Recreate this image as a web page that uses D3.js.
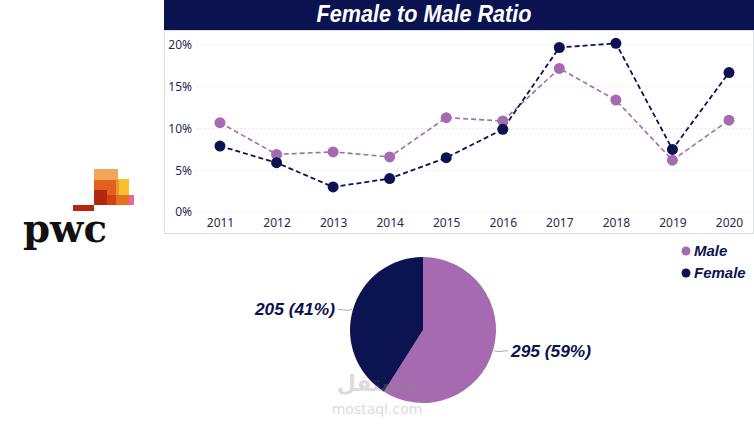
<!DOCTYPE html>
<html>
<head>
<meta charset="utf-8">
<script src="https://cdn.jsdelivr.net/npm/d3@7"></script>
<style>
  body { margin: 0; background: #fff; }
  svg { display: block; }
</style>
</head>
<body>
<div id="chart"></div>
<script>
// Data
const years = ['2011', '2012', '2013', '2014', '2015', '2016', '2017', '2018', '2019', '2020'];
const maleRatio = [0.107, 0.069, 0.072, 0.066, 0.113, 0.109, 0.172, 0.134, 0.062, 0.110];
const femaleRatio = [0.079, 0.059, 0.030, 0.040, 0.065, 0.099, 0.197, 0.202, 0.075, 0.167];
const yTicks = [0, 0.05, 0.10, 0.15, 0.20];
const pieLabels = ['Male', 'Female'];
const pieCounts = [295, 205];

const colors = { Male: '#A66AB0', Female: '#0B1350' };
const width = 754, height = 424;

const svg = d3.select('#chart').append('svg')
    .attr('width', width)
    .attr('height', height);

// pwc logo (decorative)
const logo = svg.append('g');
const blocks = [
    [94, 169, 24, 12, '#F2A65A'],
    [118, 179, 11, 16, '#F5C12E'],
    [94, 180, 22, 15, '#E0621C'],
    [116, 180, 3, 15, '#F0913A'],
    [94, 190, 13, 15, '#B5260E'],
    [107, 195, 9, 10, '#D2400F'],
    [116, 195, 13, 10, '#E5701E'],
    [129, 195, 5, 10, '#E8699E'],
    [73, 205, 21, 6, '#B5260E']
];
blocks.forEach(b => {
    logo.append('rect')
        .attr('x', b[0]).attr('y', b[1])
        .attr('width', b[2]).attr('height', b[3])
        .attr('fill', b[4]);
});
logo.append('text')
    .attr('x', 23).attr('y', 242)
    .attr('font-family', 'DejaVu Serif, Liberation Serif, serif')
    .attr('font-weight', 'bold')
    .attr('font-size', 40)
    .attr('textLength', 84)
    .attr('lengthAdjust', 'spacingAndGlyphs')
    .attr('fill', '#111')
    .text('pwc');

// Title bar
svg.append('rect')
    .attr('x', 164).attr('y', 0)
    .attr('width', width - 164).attr('height', 30)
    .attr('fill', '#0A1250');
svg.append('text')
    .attr('x', 424).attr('y', 22)
    .attr('text-anchor', 'middle')
    .attr('font-family', 'Liberation Sans, Arial, sans-serif')
    .attr('font-style', 'italic')
    .attr('font-weight', 'bold')
    .attr('font-size', 23)
    .attr('textLength', 215)
    .attr('lengthAdjust', 'spacingAndGlyphs')
    .attr('fill', '#fff')
    .text('Female to Male Ratio');

// Panel border
svg.append('rect')
    .attr('x', 164.5).attr('y', 30.5)
    .attr('width', width - 165).attr('height', 203)
    .attr('fill', 'none')
    .attr('stroke', '#dcdee6');

// Scales
const x = d3.scalePoint().domain(years).range([220, 729]);
const y = d3.scaleLinear().domain([0, 0.2]).range([212, 45]);

// Grid
svg.append('g')
    .selectAll('line')
    .data(yTicks)
    .join('line')
    .attr('x1', 197).attr('x2', 750)
    .attr('y1', d => y(d)).attr('y2', d => y(d))
    .attr('stroke', '#d6d6d6')
    .attr('stroke-dasharray', '1,3');

// Y axis
const yAxis = svg.append('g')
    .attr('transform', 'translate(192,0)')
    .call(d3.axisLeft(y).tickValues(yTicks).tickFormat(d3.format('.0%')).tickSize(0).tickPadding(0));
yAxis.select('.domain').remove();
yAxis.selectAll('text')
    .attr('font-family', 'Noto Sans, Open Sans, sans-serif')
    .attr('font-size', 12)
    .attr('fill', '#252a52');

// X axis
const xAxis = svg.append('g')
    .attr('transform', 'translate(0,215)')
    .call(d3.axisBottom(x).tickSize(0).tickPadding(3));
xAxis.select('.domain').remove();
xAxis.selectAll('text')
    .attr('font-family', 'Noto Sans, Open Sans, sans-serif')
    .attr('font-size', 12)
    .attr('fill', '#252a52');

// Lines
const series = [
    { name: 'Male', values: maleRatio, width: 1.6, dash: '5,3' },
    { name: 'Female', values: femaleRatio, width: 1.8, dash: '5,3' }
];
const line = d3.line()
    .x((d, i) => x(years[i]))
    .y(d => y(d));

series.forEach(s => {
    svg.append('path')
        .datum(s.values)
        .attr('fill', 'none')
        .attr('stroke', colors[s.name])
        .attr('stroke-width', s.width)
        .attr('stroke-dasharray', s.dash)
        .attr('d', line);
});
series.forEach(s => {
    svg.append('g')
        .selectAll('circle')
        .data(s.values)
        .join('circle')
        .attr('cx', (d, i) => x(years[i]))
        .attr('cy', d => y(d))
        .attr('r', 5.5)
        .attr('fill', colors[s.name]);
});

// Legend
const legend = svg.append('g');
pieLabels.forEach((name, i) => {
    legend.append('circle')
        .attr('cx', 686).attr('cy', 251 + i * 22)
        .attr('r', 4.5)
        .attr('fill', colors[name]);
    legend.append('text')
        .attr('x', 694).attr('y', 256 + i * 22)
        .attr('font-family', 'Liberation Sans, Arial, sans-serif')
        .attr('font-style', 'italic')
        .attr('font-weight', 'bold')
        .attr('font-size', 15)
        .attr('fill', '#0B1350')
        .text(name);
});

// Pie
const cx = 423, cy = 330, r = 73;
const pie = d3.pie().sort(null).value(d => d.value);
const pieData = pie(pieLabels.map((name, i) => ({ name: name, value: pieCounts[i] })));
const arc = d3.arc().innerRadius(0).outerRadius(r);
const total = d3.sum(pieCounts);

const pieG = svg.append('g').attr('transform', 'translate(' + cx + ',' + cy + ')');
pieG.selectAll('path')
    .data(pieData)
    .join('path')
    .attr('d', arc)
    .attr('fill', d => colors[d.data.name]);

// Pie labels with leader lines
pieData.forEach(d => {
    const mid = (d.startAngle + d.endAngle) / 2;
    const sx = Math.sin(mid), sy = -Math.cos(mid);
    const p0 = [sx * (r + 1), sy * (r + 1)];
    const side = sx >= 0 ? 1 : -1;
    const p1 = [p0[0] + side * 14, p0[1]];
    pieG.append('polyline')
        .attr('points', [p0, [p0[0] + side * 4, p0[1] + 1], p1].map(p => p.join(',')).join(' '))
        .attr('fill', 'none')
        .attr('stroke', '#aaa')
        .attr('stroke-width', 1);
    pieG.append('text')
        .attr('x', p1[0] + side * 3)
        .attr('y', p1[1] + 6)
        .attr('text-anchor', side > 0 ? 'start' : 'end')
        .attr('font-family', 'Liberation Sans, Arial, sans-serif')
        .attr('font-style', 'italic')
        .attr('font-weight', 'bold')
        .attr('font-size', 16)
        .attr('textLength', 80)
        .attr('lengthAdjust', 'spacingAndGlyphs')
        .attr('fill', '#0B1350')
        .text(d.data.value + ' (' + Math.round(d.data.value / total * 100) + '%)');
});

// Watermark
const wm = svg.append('g').attr('opacity', 0.3);
wm.append('text')
    .attr('x', 377).attr('y', 391)
    .attr('text-anchor', 'middle')
    .attr('font-family', 'DejaVu Sans, sans-serif')
    .attr('font-weight', 'bold')
    .attr('font-size', 22)
    .attr('fill', '#8a8a8a')
    .text('مستقل');
wm.append('text')
    .attr('x', 377).attr('y', 414)
    .attr('text-anchor', 'middle')
    .attr('font-family', 'DejaVu Sans, sans-serif')
    .attr('font-size', 14)
    .attr('fill', '#8a8a8a')
    .text('mostaql.com');
</script>
</body>
</html>
